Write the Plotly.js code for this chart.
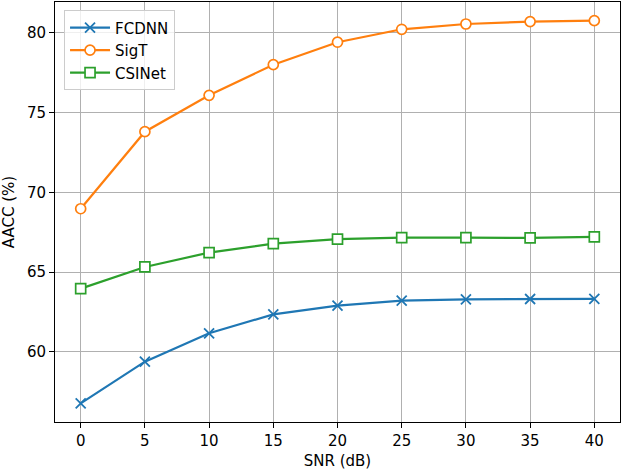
<!DOCTYPE html>
<html><head><meta charset="utf-8">
<script src="https://cdn.plot.ly/plotly-3.0.1.min.js"></script>
<style>html,body{margin:0;padding:0;background:#fff}#chart{width:622px;height:470px}</style>
</head><body><div id="chart"></div>
<script>
const snr = [0, 5, 10, 15, 20, 25, 30, 35, 40];
const fcdnn = [56.78, 59.39, 61.17, 62.36, 62.9, 63.22, 63.3, 63.32, 63.33];
const sigt = [68.98, 73.81, 76.09, 78.01, 79.42, 80.23, 80.56, 80.71, 80.77];
const csinet = [63.97, 65.33, 66.23, 66.79, 67.08, 67.17, 67.17, 67.15, 67.21];
const xTicks = [0, 5, 10, 15, 20, 25, 30, 35, 40];
const yTicks = [60, 65, 70, 75, 80];

const traces = [
  {x: snr, y: fcdnn, name: 'FCDNN', mode: 'lines+markers',
   line: {color: '#1f77b4', width: 2.2},
   marker: {symbol: 'x-thin-open', size: 10, color: '#1f77b4', line: {color: '#1f77b4', width: 1.8}}},
  {x: snr, y: sigt, name: 'SigT', mode: 'lines+markers',
   line: {color: '#ff7f0e', width: 2.2},
   marker: {symbol: 'circle', size: 10, color: '#ffffff', line: {color: '#ff7f0e', width: 1.7}}},
  {x: snr, y: csinet, name: 'CSINet', mode: 'lines+markers',
   line: {color: '#2ca02c', width: 2.2},
   marker: {symbol: 'square', size: 10, color: '#ffffff', line: {color: '#2ca02c', width: 1.7}}}
];

const layout = {
  width: 622, height: 470,
  margin: {l: 55, r: 2, t: 2, b: 48},
  paper_bgcolor: '#ffffff', plot_bgcolor: '#ffffff',
  font: {family: 'DejaVu Sans, sans-serif', size: 15, color: '#000'},
  showlegend: true,
  legend: {x: 0.016, y: 0.98, xanchor: 'left', yanchor: 'top',
           bgcolor: 'rgba(255,255,255,0.8)', bordercolor: '#cccccc', borderwidth: 1,
           font: {size: 15}, itemwidth: 40, tracegroupgap: 0},
  xaxis: {range: [-2, 42], tickvals: xTicks, ticktext: xTicks.map(String),
          showgrid: true, gridcolor: '#b0b0b0', gridwidth: 1,
          zeroline: false, showline: true, linecolor: '#000', linewidth: 1, mirror: true,
          ticks: 'outside', ticklen: 5, tickcolor: '#000', tickfont: {size: 15},
          title: {text: 'SNR (dB)', font: {size: 15}, standoff: 6}},
  yaxis: {range: [55.61, 81.94], tickvals: yTicks, ticktext: yTicks.map(String),
          showgrid: true, gridcolor: '#b0b0b0', gridwidth: 1,
          zeroline: false, showline: true, linecolor: '#000', linewidth: 1, mirror: true,
          ticks: 'outside', ticklen: 5, tickcolor: '#000', tickfont: {size: 15},
          title: {text: 'AACC (%)', font: {size: 15}, standoff: 8}}
};

Plotly.newPlot('chart', traces, layout, {displayModeBar: false, staticPlot: true});
</script></body></html>
